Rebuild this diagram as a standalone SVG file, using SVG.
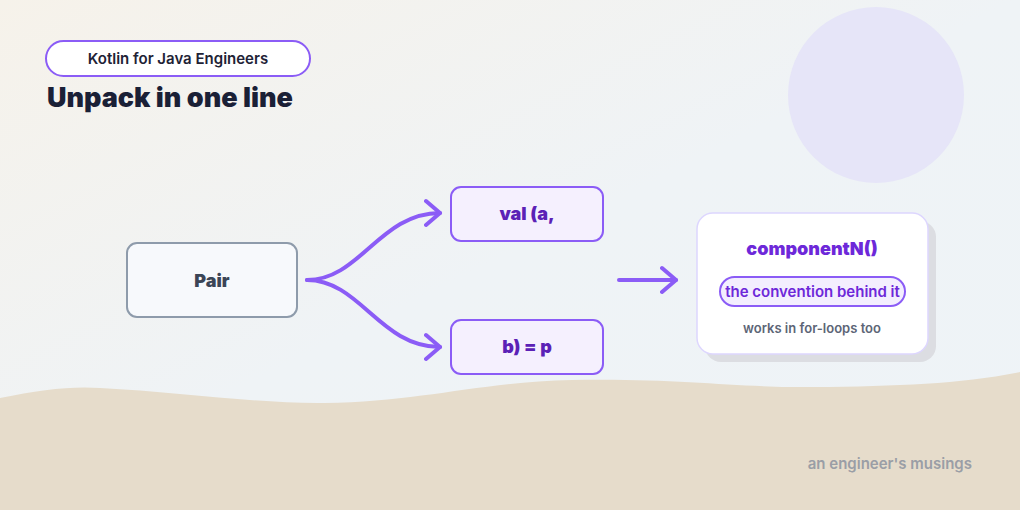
<svg xmlns="http://www.w3.org/2000/svg" width="1020" height="510" viewBox="0 0 1020 510">
<defs>
<linearGradient id="bg" x1="0" y1="0" x2="1" y2="1">
<stop offset="0" stop-color="#f6f2ea"/>
<stop offset="0.5" stop-color="#eff3f6"/>
<stop offset="1" stop-color="#eef3f7"/>
</linearGradient>
<marker id="chev" markerWidth="20" markerHeight="30" refX="16" refY="15" orient="auto" markerUnits="userSpaceOnUse" viewBox="0 0 20 30">
<path d="M2,3 L16,15 L2,27" fill="none" stroke="#8b5cf6" stroke-width="4" stroke-linecap="round" stroke-linejoin="round"/>
</marker>
<style>
text{font-family:Inter,"Noto Sans","Liberation Sans",sans-serif}
.conn{fill:none;stroke:#8b5cf6;stroke-width:4;stroke-linecap:round}
.pv{fill:#f5f0fe;stroke:#8b5cf6;stroke-width:2}
.pvt{font-size:18px;font-weight:900;fill:#5b21b6;text-anchor:middle}
</style>
</defs>
<rect width="1020" height="510" fill="url(#bg)"/>
<circle cx="876" cy="95" r="88" fill="#e6e5f8"/>
<path d="M0,398 C40,390 70,386 100,388 C180,392 260,404 325,403 C420,402 480,382 572,380 C680,378 740,388 813,387 C900,386 960,384 1020,372 L1020,510 L0,510 Z" fill="#e6dccb"/>
<g id="header">
<rect x="46" y="41" width="264" height="35" rx="17.5" fill="#ffffff" stroke="#8b5cf6" stroke-width="2"/>
<text x="178" y="64" font-size="15" font-weight="600" fill="#1e2235" text-anchor="middle">Kotlin for Java Engineers</text>
<text x="47" y="107" font-size="27" font-weight="900" fill="#1a2036">Unpack in one line</text>
</g>
<g id="connectors">
<path class="conn" d="M307,280 C360,280 380,213 440,213" marker-end="url(#chev)"/>
<path class="conn" d="M307,280 C360,280 380,347 440,347" marker-end="url(#chev)"/>
<path class="conn" d="M619,280 L676,280" marker-end="url(#chev)"/>
</g>
<g id="pair">
<rect x="127" y="243" width="170" height="74" rx="10" fill="#f7f9fc" stroke="#8e9bab" stroke-width="2"/>
<text x="212" y="287" font-size="18" font-weight="900" fill="#3b4556" text-anchor="middle">Pair</text>
</g>
<g id="val-a">
<rect class="pv" x="451" y="187" width="152" height="54" rx="10"/>
<text class="pvt" x="527" y="220">val (a,</text>
</g>
<g id="b-p">
<rect class="pv" x="451" y="320" width="152" height="54" rx="10"/>
<text class="pvt" x="527" y="353">b) = p</text>
</g>
<g id="component">
<rect x="705" y="221" width="231" height="141" rx="16" fill="#dcdde2"/>
<rect x="697" y="213" width="231" height="141" rx="16" fill="#ffffff" stroke="#ddd6fe" stroke-width="1.5"/>
<text x="812" y="255" font-size="18" font-weight="900" fill="#6d28d9" text-anchor="middle">componentN()</text>
<rect x="720" y="277" width="185" height="29" rx="14.5" fill="#f3eefe" stroke="#8b5cf6" stroke-width="2"/>
<text x="812.5" y="297" font-size="15" font-weight="600" fill="#6d28d9" text-anchor="middle">the convention behind it</text>
<text x="812" y="333" font-size="13" font-weight="600" fill="#5c6576" text-anchor="middle">works in for-loops too</text>
</g>
<text x="972" y="469" font-size="15" font-weight="600" fill="#9a9ea6" text-anchor="end">an engineer's musings</text>
</svg>
